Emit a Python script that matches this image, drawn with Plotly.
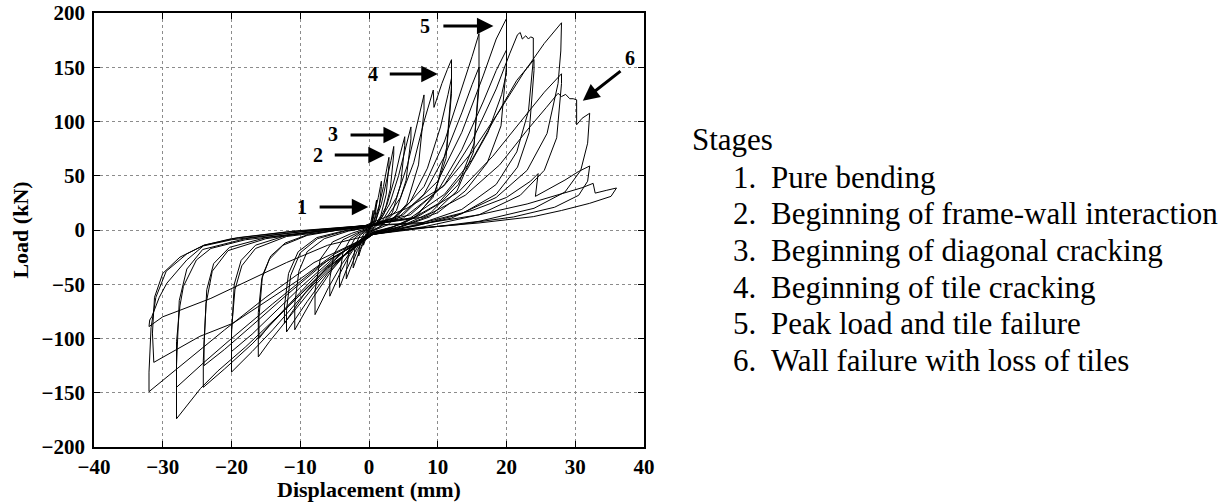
import plotly.graph_objects as go

# ---------------- data: load-displacement history, one list of (disp mm, load kN) per cycle
cycle_01 = [(0,0),(0.15,3),(0.3,8),(0.45,13),(0.6,18),(0.6,16),(0.45,9),(0.25,4),(0.1,1),(0,0),(-0.2,-3),(-0.4,-7),(-0.6,-10),(-0.8,-14),(-0.8,-12),(-0.6,-6),(-0.35,-2),(-0.1,-0.5),(0,0)]
cycle_02 = [(0,0),(0.3,4),(0.6,11),(0.85,19),(1.1,27.6),(1.1,24),(0.9,13),(0.55,5),(0.2,1),(0,0),(-0.4,-5),(-0.8,-11),(-1.2,-18),(-1.5,-24),(-1.5,-20),(-1.2,-9),(-0.7,-3),(-0.25,-1),(0,0)]
cycle_03 = [(0,0),(0.45,6),(0.9,17),(1.35,30),(1.65,40),(1.8,45),(1.8,40),(1.5,22),(1.0,9),(0.45,2),(0,0),(-0.6,-7),(-1.2,-16),(-1.8,-27),(-2.3,-35),(-2.3,-30),(-2.0,-14),(-1.3,-5),(-0.5,-1),(0,0)]
cycle_04 = [(0,0),(0.7,7),(1.45,22),(2.1,40),(2.6,57),(2.9,67),(2.9,60),(2.5,33),(1.7,13),(0.8,3),(0.1,-0.5),(-0.8,-8),(-1.7,-19),(-2.5,-32),(-3.3,-45),(-3.3,-38),(-2.9,-18),(-2.0,-7),(-0.9,-2),(-0.1,0.5)]
cycle_05 = [(-0.1,0.5),(0.9,7),(1.8,24),(2.6,46),(3.2,64),(3.6,77),(3.6,70),(3.1,38),(2.2,15),(1.0,3),(0.2,-1),(-1.1,-9),(-2.2,-22),(-3.3,-37),(-4.3,-53),(-4.3,-44),(-3.8,-21),(-2.7,-8),(-1.2,-2),(-0.2,1)]
cycle_06 = [(-0.2,1),(1.3,7),(2.6,23),(3.7,47),(4.5,69),(5.2,86),(5.2,78),(4.6,42),(3.4,16),(1.6,3),(0.2,-1),(-1.4,-10),(-2.9,-24),(-4.3,-41),(-5.7,-61),(-5.7,-45),(-5.1,-22),(-3.8,-9),(-1.8,-3),(-0.2,1)]
cycle_07 = [(-0.2,1),(1.5,8),(3.0,24),(4.3,50),(5.3,75),(6.1,95),(6.1,84),(5.4,46),(4.0,18),(1.9,4),(0.3,-1.5),(-2.0,-14),(-3.9,-31),(-5.9,-53),(-7.85,-78),(-7.85,-56),(-7.1,-27),(-5.3,-11),(-2.5,-3),(-0.3,1.5)]
cycle_08 = [(-0.3,1.5),(2.0,9),(4.0,30),(5.6,60),(6.9,95),(8.0,124.5),(8.0,110),(7.2,60),(5.5,24),(2.8,5),(0.3,-1.5),(-2.7,-17),(-5.4,-37),(-8.1,-62),(-10.8,-92),(-10.8,-68),(-10.2,-38),(-9.0,-20),(-6.5,-8),(-3.0,-1),(-0.4,2)]
cycle_09 = [(-0.4,2),(2.3,9),(4.6,30),(6.5,62),(8.0,100),(9.35,129),(9.45,113),(10.6,135),(11.4,148),(12.0,157),(12.0,133),(11.3,76),(9.6,34),(7.0,13),(3.5,3),(0.4,-2),(-3.0,-19),(-6.0,-40),(-9.0,-66),(-12.0,-94),(-12.0,-74),(-11.4,-42),(-10.0,-21),(-7.5,-8),(-3.5,-1),(-0.4,2)]
cycle_10 = [(-0.4,2),(3.0,8),(6.0,26),(8.5,57),(10.4,95),(11.5,125),(12.0,140),(12.0,126),(11.2,66),(9.3,30),(6.5,11),(3.2,2),(0.4,-2.5),(-3.0,-16),(-6.2,-35),(-9.3,-58),(-12.3,-86),(-12.3,-70),(-11.7,-40),(-10.3,-20),(-7.6,-7),(-3.5,-0.5),(-0.5,2.5)]
cycle_11 = [(-0.5,2.5),(4,12),(8,40),(11,82),(13.5,130),(15,160),(16,181),(16,132),(15.3,80),(13,42),(9,16),(4.5,3),(0.5,-2.5),(-4,-25),(-8,-52),(-12,-84),(-14.5,-103),(-16.1,-117),(-16.1,-76),(-15.6,-45),(-14.5,-27),(-12.5,-14),(-9,-5),(-4.5,0),(-0.5,3)]
cycle_12 = [(-0.5,3),(4,10),(8,33),(11,68),(13.5,108),(15,134),(16,150),(16,138),(15.2,72),(12.8,36),(8.8,12),(4.3,2),(0.5,-3),(-4,-21),(-8,-44),(-12,-71),(-14.5,-88),(-16,-100),(-16,-80),(-15.5,-42),(-14.3,-24),(-12.2,-12),(-8.8,-4),(-4.4,0),(-0.6,3)]
cycle_13 = [(-0.6,3),(5,14),(10,45),(13.5,90),(16.6,142),(18.5,176),(20,195),(20,145),(19.3,125),(17.3,90),(14.2,55),(10,24),(5,6),(0.6,-3),(-5,-30),(-10,-63),(-14,-92),(-17,-112),(-20,-131),(-20,-92),(-19.5,-55),(-18.5,-33),(-16.5,-17),(-12,-6),(-6,-1),(-0.6,3)]
cycle_14 = [(-0.6,3),(5,11),(10,36),(13.5,74),(16.6,118),(18.5,147),(20,166),(20,152),(19.2,96),(17.2,62),(14,36),(10,16),(5,4),(0.6,-3.5),(-5,-25),(-10,-53),(-14,-78),(-17,-96),(-20,-112),(-20,-96),(-19.6,-50),(-18.6,-28),(-16.5,-14),(-12,-5),(-6,0),(-0.6,3.5)]
cycle_15 = [(-0.6,3.5),(6,14),(11,42),(15,82),(18.5,130),(20.5,163),(21.6,180),(22.0,182),(22.3,176),(22.8,179),(23.2,176),(23.5,178),(23.9,177),(23.9,157),(23.2,110),(21.5,72),(18.5,42),(13.5,19),(7,5),(0.6,-3.5),(-6,-34),(-12,-72),(-17,-105),(-21,-128),(-24.1,-145),(-24.1,-120),(-23.7,-68),(-22.8,-38),(-20.5,-19),(-15,-8),(-7,-1),(-0.6,3.5)]
cycle_16 = [(-0.6,3.5),(6,11),(11,33),(15,65),(18.5,105),(21.5,138),(24,157),(24,147),(23.3,90),(21.6,58),(18.5,33),(13.5,15),(7,4),(0.6,-4),(-6,-28),(-12,-60),(-17,-88),(-21,-110),(-24,-125),(-24,-105),(-23.6,-55),(-22.6,-31),(-20.3,-16),(-15,-7),(-7,-1),(-0.6,4)]
cycle_17 = [(-0.6,4),(5.5,20),(10.8,40),(15,72),(19,110),(22.5,145),(25.5,172),(28,191),(27.9,165),(27.5,135),(25.9,89),(23,55),(18.5,30),(12,11),(6,3),(0.6,-4),(-6,-35),(-12,-72),(-18,-108),(-22,-130),(-24.5,-146),(-28,-174),(-28,-103),(-27.5,-70),(-27,-52),(-25.1,-27.6),(-23,-17),(-18,-9),(-10,-3),(-0.6,4)]
cycle_18 = [(-0.6,4),(7,12),(13,35),(18,68),(22,100),(25.5,127),(28,144),(28,135),(27.3,85),(25.5,55),(22,32),(16,14),(8,3),(0.6,-4),(-7,-32),(-14,-68),(-20,-100),(-24,-122),(-28,-145),(-28,-125),(-27.6,-65),(-26.5,-36),(-24.2,-18),(-18,-8),(-9,-1),(-0.6,4)]
cycle_19 = [(-0.6,4),(8,12),(14,32),(19,60),(23,92),(25.8,113),(27.5,126),(28.0,123),(28.6,125),(29.2,121),(29.7,121),(30.2,120),(30.2,97),(31.0,103),(32.1,107.6),(31.8,80),(30.8,55),(28.5,35),(24,20),(16,8),(8,2),(0.6,-4),(-8,-30),(-15,-62),(-21,-92),(-26,-118),(-29.5,-136),(-32,-149),(-32,-131),(-31.7,-90),(-31,-62),(-29.5,-38),(-26.5,-22),(-24,-14),(-20,-8),(-12,-2),(-0.6,4)]
cycle_20 = [(-0.6,4),(8,7),(15,18),(20,30),(23.5,45),(24.6,52),(24.2,31),(26,37),(28.5,46),(30.5,54),(32.1,59),(31.8,45),(30.5,32),(27,21),(21,12),(13,5),(6,1),(0.6,-4),(-5,-22),(-10,-45),(-15,-66),(-19.8,-86),(-24.6,-98),(-31.3,-122),(-31.5,-95),(-31.2,-62),(-30,-40),(-27.5,-25),(-24,-14),(-19,-7),(-11,-1),(-0.6,4)]
cycle_21 = [(-0.6,4),(8,6),(16,14),(23,24),(28,33),(31,39),(32.6,43),(32.9,34),(34.5,36.5),(36,38.7),(35.2,31),(32.1,24.6),(28,18),(23.9,12.3),(16,6.5),(9.35,3),(4,0),(0.6,-4),(-6,-14),(-12,-30),(-18,-48),(-23,-63),(-27.5,-74),(-30,-80),(-32,-89),(-31.9,-83),(-31.6,-80),(-30.5,-62),(-29.4,-49),(-26.5,-27.6),(-24.1,-14.7),(-20,-9),(-12,-3),(-7,0),(0,3)]

# stage markers: label, arrow tip (disp, load), arrow tail (disp, load), label position
stage_ids = ["1", "2", "3", "4", "5", "6"]
tip_disp = [-0.1, 2.3, 4.5, 10.0, 18.1, 31.1]
tip_load = [21.2, 69.1, 87.6, 143.8, 188.0, 119.2]
tail_disp = [-7.4, -5.2, -2.9, 2.8, 10.6, 36.8]
tail_load = [21.2, 69.1, 87.6, 143.8, 188.0, 147.5]
label_disp = [-9.7, -7.4, -5.2, 0.6, 8.1, 37.9]
label_load = [21.2, 69.1, 88.5, 143.8, 188.0, 158.5]

legend_title = "Stages"
legend_numbers = ["1.", "2.", "3.", "4.", "5.", "6."]
legend_texts = ["Pure bending",
                "Beginning of frame-wall interaction",
                "Beginning of diagonal cracking",
                "Beginning of tile cracking",
                "Peak load and tile failure",
                "Wall failure with loss of tiles"]

x_ticks = [-40, -30, -20, -10, 0, 10, 20, 30, 40]
y_ticks = [-200, -150, -100, -50, 0, 50, 100, 150, 200]

# ---------------- figure
cycles = [cycle_01, cycle_02, cycle_03, cycle_04, cycle_05, cycle_06, cycle_07,
          cycle_08, cycle_09, cycle_10, cycle_11, cycle_12, cycle_13, cycle_14,
          cycle_15, cycle_16, cycle_17, cycle_18, cycle_19, cycle_20, cycle_21]
disp, load = [], []
for c in cycles:
    for d, f in c:
        disp.append(d)
        load.append(f)

FONT = "Liberation Serif, Times New Roman, Times, serif"
fig = go.Figure()
fig.add_trace(go.Scatter(x=disp, y=load, mode="lines",
                         line=dict(color="black", width=1),
                         showlegend=False, hoverinfo="skip"))

axis_common = dict(
    showgrid=True, gridcolor="#8c8c8c", griddash="dot", gridwidth=1,
    zeroline=False, showline=True, linecolor="black", linewidth=1.5,
    mirror="ticks", ticks="inside", ticklen=6, tickcolor="black", tickwidth=1,
    tickfont=dict(family=FONT, size=21, color="black", weight="bold"),
    automargin=False,
)
fig.update_xaxes(range=[-40, 40], tickvals=x_ticks, ticklabelstandoff=0,
                 title=dict(text="Displacement (mm)", standoff=4,
                            font=dict(family=FONT, size=22, color="black", weight="bold")),
                 **axis_common)
fig.update_yaxes(range=[-200, 200], tickvals=y_ticks, ticklabelstandoff=3,
                 title=dict(text="Load (kN)", standoff=7,
                            font=dict(family=FONT, size=22, color="black", weight="bold")),
                 **axis_common)

annotations = []
for i in range(len(stage_ids)):
    annotations.append(dict(x=tip_disp[i], y=tip_load[i], xref="x", yref="y",
                            ax=tail_disp[i], ay=tail_load[i], axref="x", ayref="y",
                            text="", showarrow=True, arrowhead=2, arrowsize=1.1,
                            arrowwidth=3, arrowcolor="black", standoff=0, startstandoff=0))
    annotations.append(dict(x=label_disp[i], y=label_load[i], xref="x", yref="y",
                            text=stage_ids[i], showarrow=False,
                            font=dict(family=FONT, size=20, color="black", weight="bold"),
                            xanchor="center", yanchor="middle"))

x0 = 94; pw = 550; y_bot = 447; ph = 434
def px_to_paper_x(px):
    return (px - x0) / pw
def px_to_paper_y(py):
    return (y_bot - py) / ph

annotations.append(dict(x=px_to_paper_x(690), y=px_to_paper_y(139), xref="paper", yref="paper",
                        text=legend_title, showarrow=False, xanchor="left", yanchor="middle",
                        font=dict(family=FONT, size=31, color="black")))
line_y = [177, 213, 250, 287, 323, 360]
for i in range(len(legend_texts)):
    annotations.append(dict(x=px_to_paper_x(731), y=px_to_paper_y(line_y[i]), xref="paper", yref="paper",
                            text=legend_numbers[i], showarrow=False, xanchor="left", yanchor="middle",
                            font=dict(family=FONT, size=31, color="black")))
    annotations.append(dict(x=px_to_paper_x(769), y=px_to_paper_y(line_y[i]), xref="paper", yref="paper",
                            text=legend_texts[i], showarrow=False, xanchor="left", yanchor="middle",
                            font=dict(family=FONT, size=31, color="black")))

fig.update_layout(
    width=1231, height=502, autosize=False,
    margin=dict(l=94, r=587, t=13, b=55, pad=0),
    paper_bgcolor="white", plot_bgcolor="white",
    annotations=annotations,
    font=dict(family=FONT, color="black"),
)

fig.write_html("out.html")
